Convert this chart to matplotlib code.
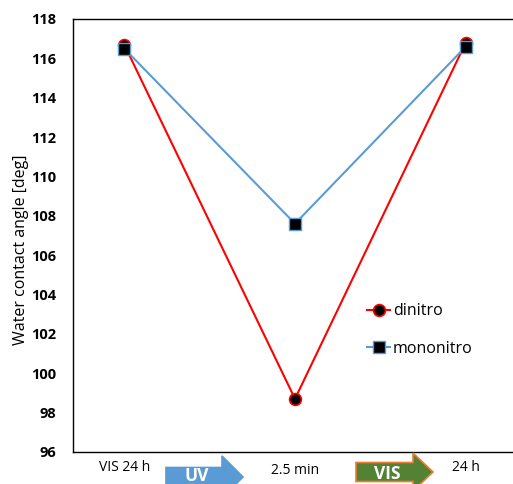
import matplotlib
matplotlib.use("Agg")
import matplotlib.pyplot as plt
from matplotlib.patches import Polygon

categories = ["VIS 24 h", "2.5 min", "24 h"]
dinitro = [116.7, 98.7, 116.8]
mononitro = [116.5, 107.6, 116.6]
yticks = [96, 98, 100, 102, 104, 106, 108, 110, 112, 114, 116, 118]

plt.rcParams['font.family'] = ['Open Sans', 'DejaVu Sans']

W, H = 513, 484
fig = plt.figure(figsize=(W / 100, H / 100), dpi=100)
ax = fig.add_axes([73 / W, 1 - 452 / H, 444 / W, (452 - 19) / H])

x = list(range(len(categories)))
ax.plot(x, dinitro, color='#FF0000', lw=1.5, marker='o', markersize=8.5,
        markerfacecolor='black', markeredgecolor='#FF0000', markeredgewidth=1.2,
        label='dinitro', zorder=3)
ax.plot(x, mononitro, color='#5B9BD5', lw=1.5, marker='s', markersize=8,
        markerfacecolor='black', markeredgecolor='#5B9BD5', markeredgewidth=1.0,
        label='mononitro', zorder=4)

ax.set_xlim(-0.3, 2.3)
ax.set_ylim(96, 118)
ax.set_yticks(yticks)
ax.set_yticklabels([str(v) for v in yticks], fontsize=10.5, fontweight='bold')
ax.set_xticks(x)
ax.set_xticklabels(categories, fontsize=10)
ax.get_xticklabels()[1].set_y(-0.006)
ax.tick_params(axis='both', length=0)
ax.tick_params(axis='y', pad=12)
ax.tick_params(axis='x', pad=6)
ax.spines['right'].set_visible(False)
for s in ['left', 'top', 'bottom']:
    ax.spines[s].set_color('#000000')
    ax.spines[s].set_linewidth(1.0)
ax.set_ylabel('Water contact angle [deg]', fontsize=11.5)
ax.yaxis.set_label_coords((21 - 73) / 444, 1 - (250 - 19) / 433)
ax.yaxis.label.set_va('center')

leg = ax.legend(loc='upper left', bbox_to_anchor=((361 - 73) / 444, 1 - (297 - 19) / 433),
                frameon=False, fontsize=11.5, handlelength=1.4, handletextpad=0.2,
                labelspacing=1.35, borderaxespad=0)


def arrow(x0, x1, xh, yc, bh, hh, face, edge, text, ty):
    pts = [(x0, yc - bh), (xh, yc - bh), (xh, yc - hh), (x1, yc),
           (xh, yc + hh), (xh, yc + bh), (x0, yc + bh)]
    pts = [(px / W, 1 - py / H) for px, py in pts]
    p = Polygon(pts, closed=True, transform=fig.transFigure, facecolor=face,
                edgecolor=edge, linewidth=1.2, clip_on=False, zorder=5)
    fig.patches.append(p)
    fig.text((x0 + xh) / 2 / W + 3 / W, 1 - ty / H, text, color='white', fontsize=12.5,
             fontweight='bold', ha='center', va='center', zorder=6)


arrow(166, 243, 222, 477, 9.5, 21, '#5B9BD5', '#5B9BD5', 'UV', 476)
arrow(356, 433, 413, 472, 9.5, 19, '#548235', '#ED7D31', 'VIS', 474)

fig.savefig('out.png', dpi=100)
